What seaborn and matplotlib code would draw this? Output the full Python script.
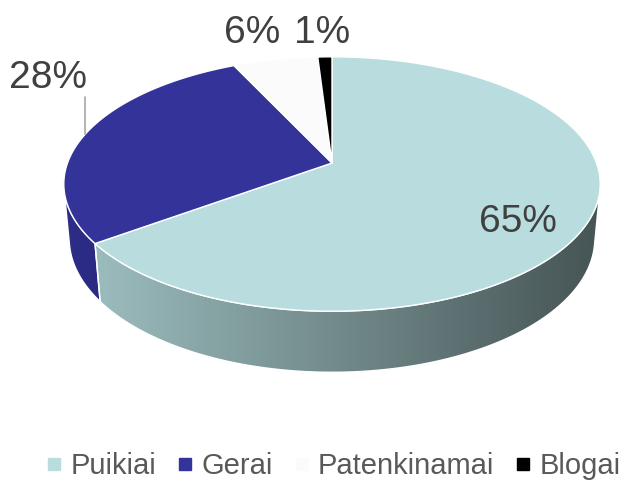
import numpy as np
import matplotlib
matplotlib.use("Agg")
import matplotlib.pyplot as plt
import seaborn as sns
from matplotlib.patches import Polygon
from matplotlib.lines import Line2D
from matplotlib.colors import LinearSegmentedColormap

# data
categories = ["Puikiai", "Gerai", "Patenkinamai", "Blogai"]
shares = [65, 28, 6, 1]
top_colors = ["#b9dddf", "#333399", "#fbfbfb", "#000000"]
side_light = ["#9bbcbd", "#2e2e8a", "#e0e0e0", "#000000"]
side_dark = ["#465455", "#2a2a82", "#c8c8c8", "#000000"]
label_xy = [(518, 222), (48, 78), (252, 33), (322, 33)]

sns.set_theme(style="white")
plt.rcParams["font.family"] = ["Liberation Sans", "DejaVu Sans"]

# perspective of the tilted disc (screen pixels)
elev = np.radians(27.5)
dist = 5.37
focal = 1439.0
xstretch = 0.987
thick = 0.232
cx, cy = 332, 163


def project(theta, z=0.0):
    # theta measured clockwise from 12 o'clock
    x = np.sin(theta)
    y = -np.cos(theta)
    depth = dist - y * np.cos(elev) - z * np.sin(elev)
    sx = cx + xstretch * focal * x / depth
    sy = cy + focal * (y * np.sin(elev) - z * np.cos(elev)) / depth
    return np.column_stack([sx, sy])


fig = plt.figure(figsize=(6.25, 4.84), dpi=100)
ax = fig.add_axes([0, 0, 1, 1])

edges = np.radians(np.concatenate([[0], np.cumsum(shares)]) / sum(shares) * 360)
vis = np.arccos(-1 / (dist * np.cos(elev)))
vis_lo, vis_hi = vis, 2 * np.pi - vis

# outer walls
for i in range(len(shares)):
    lo = max(edges[i], vis_lo)
    hi = min(edges[i + 1], vis_hi)
    if hi <= lo:
        continue
    t = np.linspace(lo, hi, 200)
    pts = np.vstack([project(t, 0.0), project(t[::-1], -thick)])
    wall = Polygon(pts, closed=True, facecolor=side_dark[i], edgecolor="white",
                   lw=1.0, zorder=1)
    ax.add_patch(wall)
    cmap = LinearSegmentedColormap.from_list("side", [side_light[i], side_dark[i]])
    x0, x1 = pts[:, 0].min(), pts[:, 0].max()
    y0, y1 = pts[:, 1].min(), pts[:, 1].max()
    im = ax.imshow(np.linspace(0, 1, 256)[None, :], extent=[x0, x1, y1, y0],
                   cmap=cmap, aspect="auto", zorder=1.5, interpolation="bilinear")
    im.set_clip_path(wall)
    ax.add_patch(Polygon(pts, closed=True, facecolor="none", edgecolor="white",
                         lw=1.0, zorder=1.6))

# top face
for i in range(len(shares)):
    t = np.linspace(edges[i], edges[i + 1], 200)
    pts = np.vstack([[cx, cy], project(t, 0.0)])
    ax.add_patch(Polygon(pts, closed=True, facecolor=top_colors[i],
                         edgecolor="white", lw=1.0, zorder=2))

# percentage labels
for v, (lx, ly) in zip(shares, label_xy):
    ax.text(lx, ly, f"{v}%", fontsize=28, color="#404040",
            ha="center", va="center", zorder=5)
ax.plot([85, 85], [97, 134], color="#a6a6a6", lw=1.2, zorder=5)

ax.set_xlim(0, 625)
ax.set_ylim(484, 0)
ax.axis("off")

handles = [Line2D([], [], marker="s", ls="", color=c, markersize=8)
           for c in top_colors]
fig.legend(handles, categories, loc="lower center", bbox_to_anchor=(0.534, -0.047),
           ncol=4, frameon=False, fontsize=21, labelcolor="#595959",
           handlelength=0.5, handletextpad=0.3, columnspacing=0.75)

fig.savefig("out.png", dpi=100)
